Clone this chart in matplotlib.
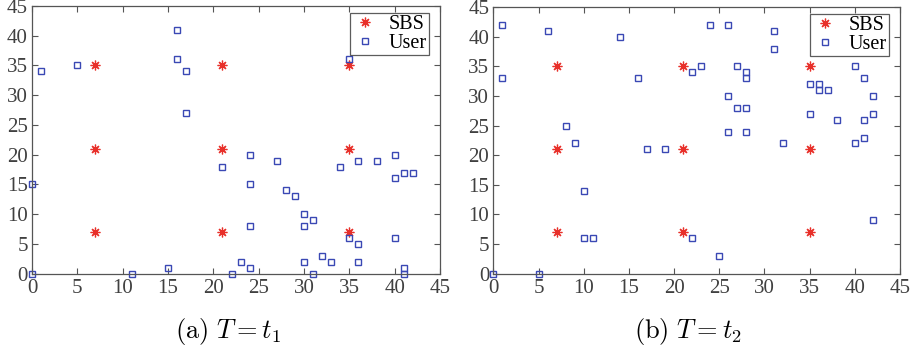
import matplotlib
matplotlib.use("Agg")
import matplotlib.pyplot as plt

plt.rcParams['font.family'] = ['Liberation Serif', 'DejaVu Serif']
plt.rcParams['mathtext.fontset'] = 'cm'

# SBS (same in both snapshots)
sbs_x = [7, 7, 7, 21, 21, 21, 35, 35, 35]
sbs_y = [35, 21, 7, 35, 21, 7, 35, 21, 7]

# users at T = t1
users_a_x = [0, 0, 1, 5, 11, 15, 16, 16, 17, 17, 21, 22, 23, 24, 24, 24, 24, 27, 28, 29,
             30, 30, 30, 31, 31, 32, 33, 34, 35, 35, 36, 36, 36, 38, 40, 40, 40, 41, 41, 41, 42]
users_a_y = [0, 15, 34, 35, 0, 1, 41, 36, 34, 27, 18, 0, 2, 20, 15, 8, 1, 19, 14, 13,
             10, 8, 2, 9, 0, 3, 2, 18, 36, 6, 19, 5, 2, 19, 20, 16, 6, 17, 1, 0, 17]

# users at T = t2
users_b_x = [0, 1, 1, 5, 6, 8, 9, 10, 10, 11, 14, 16, 17, 19, 22, 22, 23, 24, 25, 26, 26, 26,
             27, 27, 28, 28, 28, 28, 31, 31, 32, 35, 35, 36, 36, 37, 38, 40, 40, 41, 41, 41,
             42, 42, 42]
users_b_y = [0, 42, 33, 0, 41, 25, 22, 14, 6, 6, 40, 33, 21, 21, 34, 6, 35, 42, 3, 42, 30, 24,
             35, 28, 34, 33, 28, 24, 41, 38, 22, 32, 27, 32, 31, 31, 26, 35, 22, 33, 26, 23,
             30, 27, 9]

ticks = [0, 5, 10, 15, 20, 25, 30, 35, 40, 45]
captions = [r'$\mathrm{(a)}\ T = t_1$', r'$\mathrm{(b)}\ T = t_2$']

fig = plt.figure(figsize=(9.17, 3.47), dpi=100)
ax_a = fig.add_axes([0.0349, 0.2112, 0.445, 0.772])
ax_b = fig.add_axes([0.538, 0.2112, 0.4435, 0.768])

paneles = [(ax_a, users_a_x, users_a_y), (ax_b, users_b_x, users_b_y)]
for i, (ax, ux, uy) in enumerate(paneles):
    ax.plot(sbs_x, sbs_y, linestyle='none', marker=(8, 2, 0), markersize=7,
            color='#e8302a', markeredgewidth=0.9, clip_on=False, label='SBS')
    ax.plot(ux, uy, linestyle='none', marker='s', markersize=5, markerfacecolor='none',
            markeredgecolor='#3a48b4', markeredgewidth=1.0, clip_on=False, label='User')
    ax.set_xlim(0, 45)
    ax.set_ylim(0, 45)
    ax.set_xticks(ticks)
    ax.set_yticks(ticks)
    ax.tick_params(direction='in', length=4, width=0.8, top=True, right=True,
                   labelsize=15, colors='#555555', labelcolor='#404040')
    ax.tick_params(axis='x', pad=4)
    ax.tick_params(axis='y', pad=3)
    for s in ax.spines.values():
        s.set_color('#555555')
        s.set_linewidth(0.9)
    leg = ax.legend(loc='upper right', bbox_to_anchor=(0.972, 0.975), fontsize=14.5,
                    frameon=True, fancybox=False, edgecolor='#333333', borderpad=0.1,
                    handletextpad=0.5, labelspacing=0.0, handlelength=1.3, borderaxespad=0)
    leg.get_frame().set_linewidth(0.9)

fig.text(0.249, 0.045, captions[0], ha='center', va='center', fontsize=19)
fig.text(0.750, 0.045, captions[1], ha='center', va='center', fontsize=19)

plt.savefig('out.png', dpi=100)
